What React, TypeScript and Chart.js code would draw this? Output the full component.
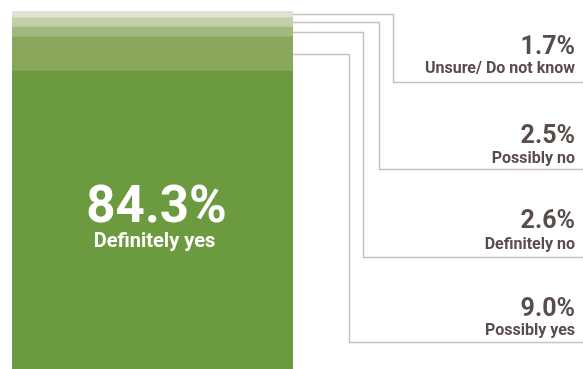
import React, { useEffect, useRef } from "react";
import { Chart, registerables } from "chart.js";

Chart.register(...registerables);

// Stack order bottom -> top
const categories = ["Response"];
const seriesNames = ["Definitely yes", "Possibly yes", "Definitely no", "Possibly no", "Unsure/ Do not know"];
const seriesValues = [84.3, 9.0, 2.6, 2.5, 1.7];
const valueLabels = ["84.3%", "9.0%", "2.6%", "2.5%", "1.7%"];
const seriesColors = ["#6c9a3f", "#8aa85c", "#a3b87e", "#c2cfa7", "#dce4cf"];

// callout layout for series 1..4 (turn x, bottom y of leader, number baseline, label baseline)
const callouts = [
  { idx: 4, turnX: 393, endY: 82, numY: 54, labY: 73 },
  { idx: 3, turnX: 379, endY: 169, numY: 143, labY: 163 },
  { idx: 2, turnX: 363, endY: 257, numY: 228, labY: 249 },
  { idx: 1, turnX: 349, endY: 342, numY: 316, labY: 335 },
];

const FONT = "Roboto, 'Noto Sans', sans-serif";
const TEXT = "#594d4b";
const LINE = "#c9c1bf";

const calloutPlugin = {
  id: "callouts",
  afterDatasetsDraw(chart: any) {
    const ctx = chart.ctx as CanvasRenderingContext2D;
    const W = chart.width;
    ctx.save();
    ctx.strokeStyle = LINE;
    ctx.lineWidth = 1.5;
    callouts.forEach((c) => {
      const meta = chart.getDatasetMeta(c.idx);
      const bar = meta.data[0] as any;
      const yMid = (bar.y + bar.base) / 2;
      const xr = bar.x + bar.width / 2;
      ctx.beginPath();
      ctx.moveTo(xr, Math.round(yMid) + 0.5);
      ctx.lineTo(c.turnX + 0.5, Math.round(yMid) + 0.5);
      ctx.lineTo(c.turnX + 0.5, c.endY + 0.5);
      ctx.lineTo(W, c.endY + 0.5);
      ctx.stroke();
      ctx.fillStyle = TEXT;
      ctx.textAlign = "right";
      ctx.textBaseline = "alphabetic";
      ctx.font = `bold 25px ${FONT}`;
      ctx.fillText(valueLabels[c.idx], 575, c.numY);
      ctx.font = `bold 16px ${FONT}`;
      ctx.fillText(seriesNames[c.idx], 575, c.labY);
    });
    // main label inside bar
    const bar0 = chart.getDatasetMeta(0).data[0] as any;
    ctx.fillStyle = "#ffffff";
    ctx.textAlign = "center";
    ctx.font = `bold 51px ${FONT}`;
    ctx.fillText(valueLabels[0], bar0.x + 4, 222);
    ctx.font = `bold 20px ${FONT}`;
    ctx.fillText(seriesNames[0], bar0.x + 2, 247);
    ctx.restore();
  },
};

export default function App() {
  const ref = useRef<HTMLCanvasElement>(null);
  useEffect(() => {
    if (!ref.current) return;
    const chart = new Chart(ref.current, {
      type: "bar",
      data: {
        labels: categories,
        datasets: seriesNames.map((name, i) => ({
          label: name,
          data: [seriesValues[i]],
          backgroundColor: seriesColors[i],
          borderWidth: 0,
          barPercentage: 1,
          categoryPercentage: 1,
        })),
      },
      options: {
        animation: false,
        responsive: false,
        maintainAspectRatio: false,
        layout: { padding: { left: 12, right: 290, top: 11, bottom: 0 } },
        plugins: { legend: { display: false }, tooltip: { enabled: false } },
        scales: {
          x: { stacked: true, display: false },
          y: { stacked: true, display: false, min: 6, max: 100.1 },
        },
      },
      plugins: [calloutPlugin],
    });
    return () => chart.destroy();
  }, []);
  return (
    <div style={{ position: "absolute", left: 0, top: 0, width: 583, height: 369, background: "#fff" }}>
      <canvas ref={ref} width={583} height={369} style={{ display: "block" }} />
    </div>
  );
}
